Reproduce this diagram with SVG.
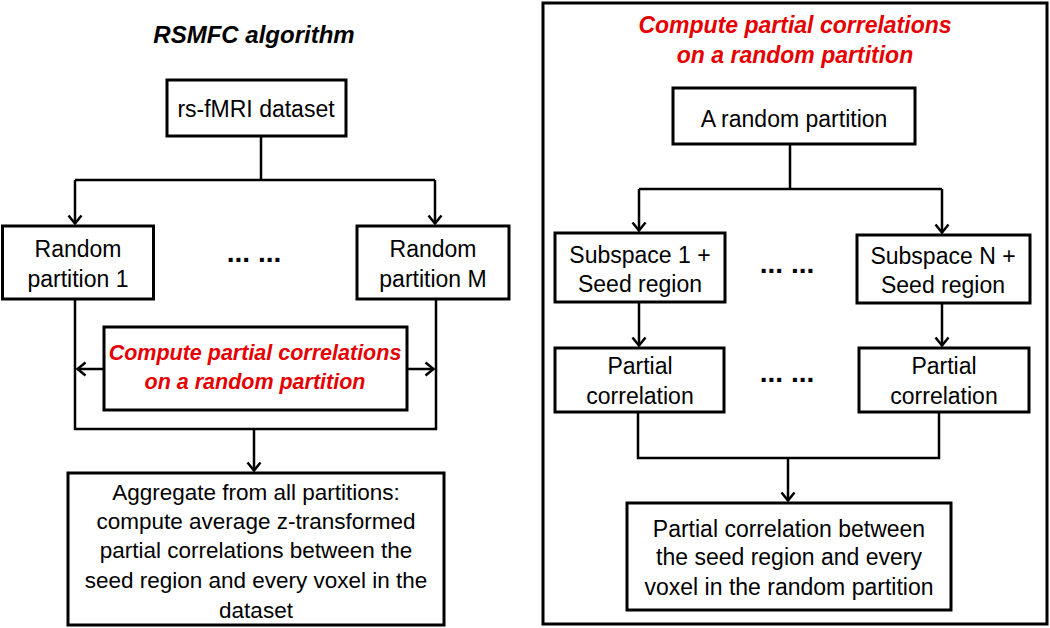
<svg xmlns="http://www.w3.org/2000/svg" width="1050" height="628" viewBox="0 0 1050 628">
<style>
.box{fill:#fff;stroke:#000;stroke-width:3}
.frame{fill:none;stroke:#000;stroke-width:3}
.t{font-family:"Liberation Sans",Arial,sans-serif;font-size:23px;fill:#000;text-anchor:middle}
.ta{font-size:22.5px}
.red{font-family:"Liberation Sans",Arial,sans-serif;font-weight:bold;font-style:italic;fill:#e60000;text-anchor:middle}
.title{font-family:"Liberation Sans",Arial,sans-serif;font-weight:bold;font-style:italic;font-size:24px;fill:#000;text-anchor:middle}
.dots{font-family:"Liberation Sans",Arial,sans-serif;font-weight:bold;font-size:28px;fill:#000;text-anchor:middle}
.c{fill:none;stroke:#000;stroke-width:2.5}
.a{fill:none;stroke:#000;stroke-width:2.5;marker-end:url(#arr)}
</style>
<defs>
<marker id="arr" markerUnits="userSpaceOnUse" markerWidth="20" markerHeight="20" viewBox="-10 -10 20 20" refX="0" refY="0" orient="auto">
<path d="M-8,-6.5 L0,0 L-8,6.5" fill="none" stroke="#000" stroke-width="2.5"/>
</marker>
</defs>
<rect width="1050" height="628" fill="#fff"/>

<text class="title" x="254" y="43">RSMFC algorithm</text>

<g id="connectors">
<path class="c" d="M261,136 V180 M75,180 H435"/>
<path class="a" d="M75,180 V223.5"/>
<path class="a" d="M435,180 V223.5"/>
<path class="c" d="M75,299 V429 H436 V299"/>
<path class="a" d="M104,369 H77.5"/>
<path class="a" d="M407,369 H433.5"/>
<path class="a" d="M254,429 V470.5"/>
<path class="c" d="M790,144 V189 M639,189 H942"/>
<path class="a" d="M639,189 V230.5"/>
<path class="a" d="M942,189 V232.5"/>
<path class="a" d="M639,302 V345.5"/>
<path class="a" d="M942,303 V345.5"/>
<path class="c" d="M638,412 V458 H939 V412"/>
<path class="a" d="M788,458 V500.5"/>
</g>

<g id="rs-fmri">
<rect class="box" x="167" y="80" width="179" height="56"/>
<text class="t" x="256" y="117">rs-fMRI dataset</text>
</g>
<g id="random-partition-1">
<rect class="box" x="2.5" y="226" width="151" height="73"/>
<text class="t" x="78" y="257">Random</text>
<text class="t" x="78" y="287">partition 1</text>
</g>
<g id="dots-left">
<text class="dots" x="254" y="262">... ...</text>
</g>
<g id="random-partition-m">
<rect class="box" x="357" y="226" width="152" height="73"/>
<text class="t" x="433" y="257">Random</text>
<text class="t" x="433" y="287">partition M</text>
</g>
<g id="compute-left">
<rect class="box" x="104" y="327" width="303" height="83"/>
<text class="red" font-size="21.5" x="255" y="360">Compute partial correlations</text>
<text class="red" font-size="21.5" x="255" y="389">on a random partition</text>
</g>
<g id="aggregate">
<rect class="box" x="68" y="473" width="376" height="152"/>
<text class="t ta" x="256" y="500">Aggregate from all partitions:</text>
<text class="t ta" x="256" y="529">compute average z-transformed</text>
<text class="t ta" x="256" y="558">partial correlations between the</text>
<text class="t ta" x="256" y="588">seed region and every voxel in the</text>
<text class="t ta" x="256" y="618">dataset</text>
</g>

<g id="right-panel">
<rect class="frame" x="543" y="3" width="504" height="621"/>
<text class="red" font-size="23" x="795" y="33">Compute partial correlations</text>
<text class="red" font-size="23" x="795" y="63">on a random partition</text>
</g>
<g id="a-random-partition">
<rect class="box" x="673" y="88" width="242" height="56"/>
<text class="t" x="794" y="127">A random partition</text>
</g>
<g id="subspace-1">
<rect class="box" x="555" y="233" width="170" height="69"/>
<text class="t" x="640" y="263">Subspace 1 +</text>
<text class="t" x="640" y="292">Seed region</text>
</g>
<g id="dots-r1">
<text class="dots" x="787" y="273">... ...</text>
</g>
<g id="subspace-n">
<rect class="box" x="857" y="235" width="173" height="68"/>
<text class="t" x="943" y="264">Subspace N +</text>
<text class="t" x="943" y="293">Seed region</text>
</g>
<g id="partial-1">
<rect class="box" x="555" y="348" width="169" height="64"/>
<text class="t" x="640" y="374">Partial</text>
<text class="t" x="640" y="404">correlation</text>
</g>
<g id="dots-r2">
<text class="dots" x="787" y="382">... ...</text>
</g>
<g id="partial-n">
<rect class="box" x="859" y="348" width="170" height="64"/>
<text class="t" x="944" y="374">Partial</text>
<text class="t" x="944" y="404">correlation</text>
</g>
<g id="partial-result">
<rect class="box" x="627" y="503" width="324" height="107"/>
<text class="t" x="789" y="537">Partial correlation between</text>
<text class="t" x="789" y="565">the seed region and every</text>
<text class="t" x="789" y="595">voxel in the random partition</text>
</g>
</svg>
